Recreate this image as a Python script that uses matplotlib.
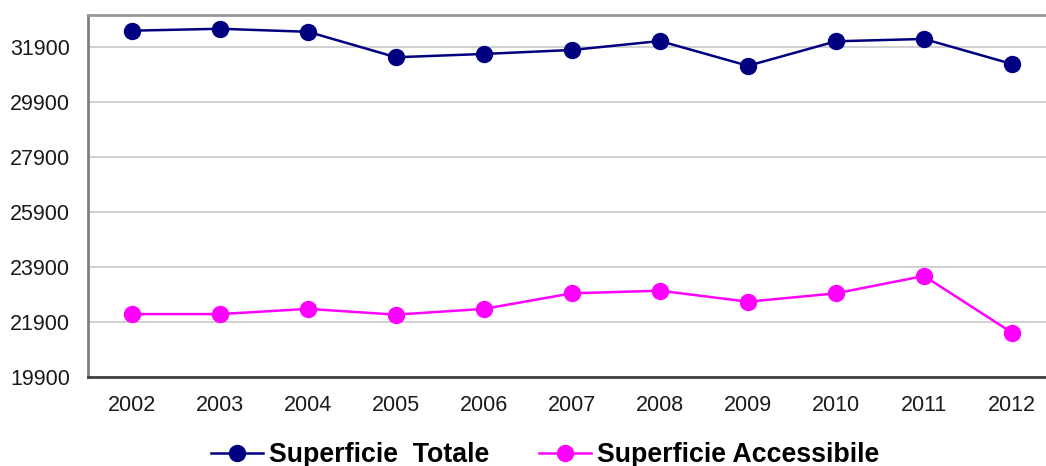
import matplotlib
matplotlib.use("Agg")
import matplotlib.pyplot as plt

years = ["2002", "2003", "2004", "2005", "2006", "2007", "2008", "2009", "2010", "2011", "2012"]
totale = [32480, 32550, 32440, 31515, 31635, 31780, 32105, 31205, 32095, 32180, 31270]
accessibile = [22185, 22185, 22375, 22165, 22375, 22940, 23035, 22635, 22940, 23570, 21510]
yticks = [19900, 21900, 23900, 25900, 27900, 29900, 31900]

plt.rcParams['font.family'] = ['Liberation Sans', 'DejaVu Sans']

W, H = 1046, 466
fig = plt.figure(figsize=(W / 100, H / 100), dpi=100)
ax = fig.add_axes([88 / W, (H - 377) / H, (1056 - 88) / W, 362 / H])

x = list(range(len(years)))
ax.plot(x, totale, color='#000080', lw=1.8, marker='o', ms=11.5,
        label='Superficie  Totale', zorder=3)
ax.plot(x, accessibile, color='#FF00FF', lw=1.8, marker='o', ms=11.5,
        label='Superficie Accessibile', zorder=3)

ax.set_xlim(-0.5, len(years) - 0.5)
ax.set_ylim(19900, 33050)
ax.set_yticks(yticks)
ax.set_yticklabels([str(v) for v in yticks])
ax.set_xticks(x)
ax.set_xticklabels(years)
ax.tick_params(axis='both', length=0, labelsize=15.5, colors='#1a1a1a')
ax.tick_params(axis='y', pad=13)
ax.tick_params(axis='x', pad=13)
ax.grid(axis='y', color='#C8C8C8', lw=1.2)
ax.set_axisbelow(True)
ax.spines['left'].set_color('#808080')
ax.spines['left'].set_linewidth(2)
ax.spines['bottom'].set_color('#404040')
ax.spines['bottom'].set_linewidth(2)
ax.spines['top'].set_color('#999999')
ax.spines['top'].set_linewidth(2)
ax.spines['right'].set_visible(False)

leg = fig.legend(loc='center', bbox_to_anchor=(545 / W, 1 - 455 / H), ncol=2,
                 frameon=False, prop={'weight': 'bold', 'size': 19.3},
                 handlelength=1.95, handletextpad=0.22, columnspacing=1.85,
                 borderaxespad=0)

fig.savefig('out.png', dpi=100)
